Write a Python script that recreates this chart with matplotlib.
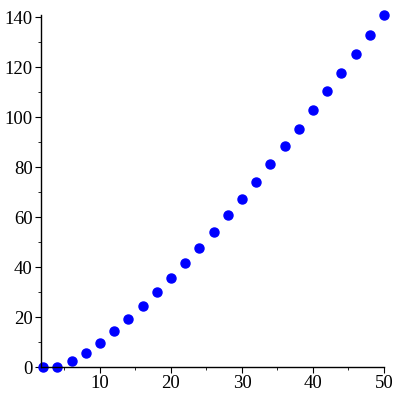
import matplotlib.pyplot as plt
from matplotlib.ticker import MultipleLocator

x_vals = [2, 4, 6, 8, 10, 12, 14, 16, 18, 20, 22, 24, 26, 28, 30,
          32, 34, 36, 38, 40, 42, 44, 46, 48, 50]
y_vals = [0, 0, 2.3, 5.7, 9.6, 14.3, 19.1, 24.3, 29.9, 35.5, 41.5, 47.7,
          54.1, 60.7, 67.4, 74.3, 81.2, 88.4, 95.5, 102.8, 110.4, 117.9,
          125.5, 133.1, 140.9]

plt.rcParams['font.family'] = ['Liberation Serif', 'DejaVu Serif']

fig = plt.figure(figsize=(4, 4), dpi=100)
ax = fig.add_axes([41 / 400, 1 - 367 / 400, (384 - 41) / 400, (367 - 15) / 400])

ax.plot(x_vals, y_vals, 'o', color='#0000ff', markersize=6.5, clip_on=False)

ax.set_xlim(1.7, 50)
ax.set_ylim(0, 141)

for s in ['top', 'right']:
    ax.spines[s].set_visible(False)
for s in ['left', 'bottom']:
    ax.spines[s].set_linewidth(1)

ax.xaxis.set_major_locator(MultipleLocator(10))
ax.xaxis.set_minor_locator(MultipleLocator(5))
ax.yaxis.set_major_locator(MultipleLocator(20))
ax.yaxis.set_minor_locator(MultipleLocator(10))

ax.tick_params(which='major', length=4, width=0.8, labelsize=13.5, pad=2)
ax.tick_params(which='minor', length=2.5, width=0.6)

ax.set_xticks([10, 20, 30, 40, 50])

fig.savefig('out.png', dpi=100)
